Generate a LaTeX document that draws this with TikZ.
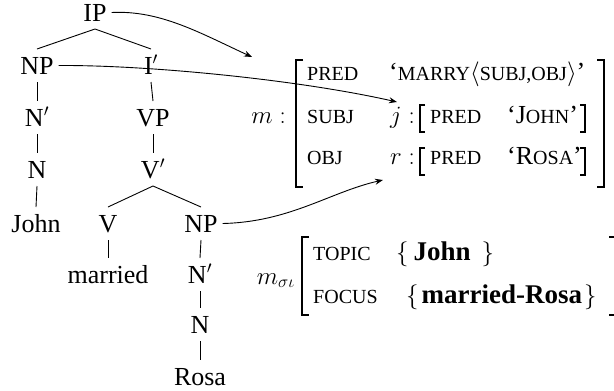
\documentclass[tikz,border=0pt]{standalone}
\usepackage{fontspec}
\setmainfont{Liberation Serif}
\usetikzlibrary{arrows.meta}
\newcommand\smc[1]{{\fontsize{20}{22}\selectfont #1}}
\begin{document}
\begin{tikzpicture}[x=1pt,y=-1pt,
  font=\fontsize{26}{30}\selectfont,
  lab/.style={anchor=base, inner sep=0pt, text height=17pt, text depth=0pt, outer xsep=5pt, outer ysep=8pt},
  txt/.style={inner sep=0pt},
  edge/.style={line width=0.9pt},
  link/.style={line width=0.9pt, -{Stealth[length=8pt,width=6pt]}},
  brk/.style={line width=1.2pt}]
\useasboundingbox (0,0) rectangle (614,391);
% tree
\node[lab] (ip) at (95,21) {IP};
\node[lab] (np1) at (37,74) {NP};
\node[lab] (ib) at (151,74) {I$'$};
\node[lab] (nb1) at (37,126) {N$'$};
\node[lab] (vp) at (153,126) {VP};
\node[lab] (n1) at (37,178) {N};
\node[lab] (vb) at (153,178) {V$'$};
\node[lab] (john) at (36,232) {John};
\node[lab] (v) at (108,232) {V};
\node[lab] (np2) at (201,232) {NP};
\node[lab] (married) at (108,283) {married};
\node[lab] (nb2) at (200,283) {N$'$};
\node[lab] (n2) at (200,333) {N};
\node[lab] (rosa) at (200,385) {Rosa};
\draw[edge] (np1.north) -- (ip.south) -- (ib.north);
\draw[edge] (np1.south) -- (nb1.north);
\draw[edge] (nb1.south) -- (n1.north);
\draw[edge] (n1.south) -- (john.north);
\draw[edge] (ib.south) -- (vp.north);
\draw[edge] (vp.south) -- (vb.north);
\draw[edge] (v.north) -- (vb.south) -- (np2.north);
\draw[edge] (v.south) -- (married.north);
\draw[edge] (np2.south) -- (nb2.north);
\draw[edge] (nb2.south) -- (n2.north);
\draw[edge] (n2.south) -- (rosa.north);
% f-structure
\node[txt, anchor=base east] (m) at (286,123) {$m:$};
\draw[brk] (303,60) -| (296,187) -- (303,187);
\draw[brk] (597,60) -| (604,187) -- (597,187);
\node[txt, anchor=base west] (pred1) at (307,80) {\smc{PRED}};
\node[txt, anchor=base west] (marry) at (389,80) {`\smc{MARRY}$\langle$\smc{SUBJ,OBJ}$\rangle$'};
\node[txt, anchor=base west] (subj) at (307,123) {\smc{SUBJ}};
\node[txt, anchor=base east] (j) at (415,123) {$j:$};
\draw[brk] (425,105) -| (420,132) -- (425,132);
\draw[brk] (580,105) -| (585,132) -- (580,132);
\node[txt, anchor=base west] (pred2) at (430,123) {\smc{PRED}};
\node[txt, anchor=base west] (jn) at (507,123) {`J\smc{OHN}'};
\node[txt, anchor=base west] (obj) at (307,164) {\smc{OBJ}};
\node[txt, anchor=base east] (r) at (415,164) {$r:$};
\draw[brk] (425,148) -| (420,175) -- (425,175);
\draw[brk] (580,148) -| (585,175) -- (580,175);
\node[txt, anchor=base west] (pred3) at (430,164) {\smc{PRED}};
\node[txt, anchor=base west] (rs) at (507,164) {`R\smc{OSA}'};
% i-structure
\node[txt, anchor=base east] (msi) at (295,284) {$m_{\sigma\iota}$};
\draw[brk] (309,237) -| (302,315) -- (309,315);
\draw[brk] (609,237) -| (616,315) -- (609,315);
\node[txt, anchor=base west] (topic) at (313,260) {\smc{TOPIC}};
\node[txt, anchor=base west] (tval) at (396,260) {$\{$\hspace{5pt}{\fontsize{27}{30}\selectfont\textbf{John}}\hspace{11pt}$\}$};
\node[txt, anchor=base west] (focus) at (313,303) {\smc{FOCUS}};
\node[txt, anchor=base west] (fval) at (406,303) {$\{$\hspace{3pt}{\fontsize{27}{30}\selectfont\textbf{married-Rosa}}\hspace{2pt}$\}$};
% links
\coordinate (t1) at (252,57);
\coordinate (t2) at (397,102);
\coordinate (t3) at (383,180);
\draw[link] (ip.east) .. controls (160,10) and (200,33) .. (t1);
\draw[link] (np1.east) .. controls (150,65) and (300,80) .. (t2);
\draw[link] (np2.east) .. controls (290,222) and (330,192) .. (t3);
\end{tikzpicture}
\end{document}
